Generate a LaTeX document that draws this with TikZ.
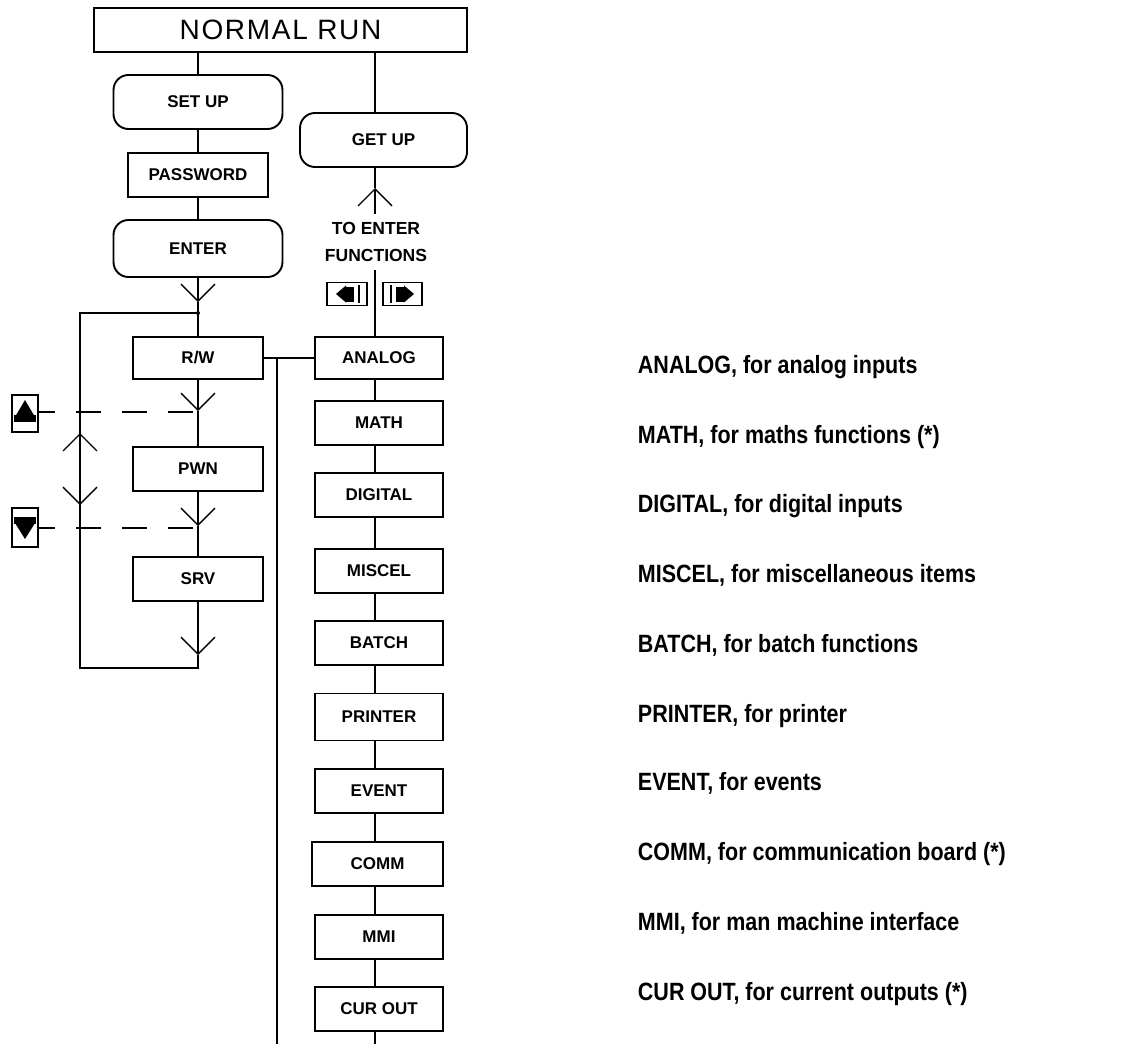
\documentclass[tikz,border=0pt]{standalone}
\usepackage{fontspec}
\setmainfont{Liberation Sans}
\newfontfamily\labfont[FakeStretch=0.86]{Liberation Sans}
\usetikzlibrary{arrows.meta}
\begin{document}
\begin{tikzpicture}[x=1pt,y=-1pt,line width=1.9pt,
  boxtxt/.style={font=\bfseries\fontsize{17}{17}\selectfont},
  lbox/.style={draw,boxtxt,minimum width=130pt,minimum height=44pt,inner sep=0pt},
  rbox/.style={draw,boxtxt,minimum width=128pt,minimum height=44pt,inner sep=0pt},
  pill/.style={draw,boxtxt,rounded corners=15pt,minimum width=169pt,minimum height=54pt,inner sep=0pt},
  keybox/.style={draw,line width=1.6pt,inner sep=0pt},
  lab/.style={anchor=base west,inner sep=0pt,font=\labfont\bfseries\fontsize{25}{25}\selectfont},
  barb/.style={-{Straight Barb[length=17pt,width=34pt,line width=1.3pt]}},
  dashln/.style={dash pattern=on 25pt off 21pt,dash phase=25pt}]
\useasboundingbox (0,0) rectangle (1137,1044);

% top
\node[draw,minimum width=373pt,minimum height=44pt,inner sep=0pt,
  font=\fontsize{28}{28}\selectfont\addfontfeature{LetterSpace=6}] (nr) at (280.5,30) {NORMAL RUN};

\coordinate (colR) at (375,0);
\coordinate (colL) at (198,0);

% left column
\node[pill] (setup) at (198,102) {SET UP};
\node[lbox,minimum width=140pt] (pwd) at (198,175) {PASSWORD};
\node[pill,minimum height=57pt] (enter) at (198,248.5) {ENTER};
\node[lbox,minimum height=42pt] (rw) at (198,358) {R/W};
\node[lbox] (pwn) at (198,469) {PWN};
\node[lbox] (srv) at (198,579) {SRV};

% right column
\node[pill,minimum width=167pt] (getup) at (383.5,140) {GET UP};
\node[align=center,inner sep=0pt,minimum height=54pt,
  font=\bfseries\fontsize{17.5}{27}\selectfont] (funcs) at (376,242) {TO ENTER\\FUNCTIONS};
\node[keybox,minimum width=40pt,minimum height=23pt] (lkey) at (347,294) {};
\node[keybox,minimum width=39pt,minimum height=23pt] (rkey) at (402.5,294) {};

\node[rbox,minimum height=42pt] (analog) at (379,358) {ANALOG};
\node[rbox] (math) at (379,423) {MATH};
\node[rbox] (digital) at (379,495) {DIGITAL};
\node[rbox] (miscel) at (379,571) {MISCEL};
\node[rbox] (batch) at (379,643) {BATCH};
\node[rbox,minimum height=47pt] (printer) at (379,717) {PRINTER};
\node[rbox] (event) at (379,791) {EVENT};
\node[rbox,minimum width=131pt] (comm) at (377.5,864) {COMM};
\node[rbox] (mmi) at (379,937) {MMI};
\node[rbox] (curout) at (379,1009) {CUR OUT};

% keys on the left
\node[keybox,minimum width=26pt,minimum height=37pt] (upkey) at (25,413.5) {};
\node[keybox,minimum width=26pt,minimum height=39pt] (dnkey) at (25,527.5) {};

% key icons
\fill (14,415) rectangle (36,422);
\fill (15,417) -- (25,400) -- (35,417) -- cycle;
\fill (14,517) rectangle (36,524);
\fill (15,523) -- (25,539) -- (35,523) -- cycle;
\fill (336,294) -- (346,285.5) -- (346,302.5) -- cycle;
\fill (345,287) rectangle (354,302);
\draw[line width=1.4pt] (359,285) -- (359,303);
\fill (414,294) -- (404,285.5) -- (404,302.5) -- cycle;
\fill (396,287) rectangle (405,302);
\draw[line width=1.4pt] (391,285) -- (391,303);

% connectors, left column
\draw (nr.south -| colL) -- (setup.north);
\draw (setup.south) -- (pwd.north);
\draw (pwd.south) -- (enter.north);
\coordinate (t1) at (198,302);
\coordinate (junc) at (198,313);
\draw[barb] (enter.south) -- (t1);
\draw (t1) -- (rw.north);
\fill (junc) circle (2pt);
\coordinate (t2) at (198,411);
\draw[barb] (rw.south) -- (t2);
\draw (t2) -- (pwn.north);
\coordinate (t3) at (198,526);
\draw[barb] (pwn.south) -- (t3);
\draw (t3) -- (srv.north);
\coordinate (t4) at (198,655);
\coordinate (loopBR) at (198,668);
\coordinate (loopBL) at (80,668);
\coordinate (loopTL) at (80,313);
\draw[barb] (srv.south) -- (t4);
\draw (t4) -- (loopBR) -- (loopBL) -- (loopTL) -- (junc);

% arrows on loop line
\coordinate (upTip) at (80,433);
\coordinate (dnTip) at (80,505);
\coordinate (mid) at (80,469);
\draw[barb] (mid) -- (upTip);
\draw[barb] (mid) -- (dnTip);

% dashed key lines
\coordinate (ua) at (55,412);
\coordinate (ub) at (198,412);
\coordinate (da) at (55,528);
\coordinate (db) at (198,528);
\draw (upkey.east |- ua) -- (ua);
\draw[dashln] (ua) -- (ub);
\draw (dnkey.east |- da) -- (da);
\draw[dashln] (da) -- (db);

% connectors, right column
\draw (nr.south -| colR) -- (getup.north -| colR);
\coordinate (t5) at (375,188);
\draw[barb] (funcs.north -| colR) -- (t5);
\draw (t5) -- (getup.south -| colR);
\draw (funcs.south -| colR) -- (analog.north -| colR);
\draw (analog.south -| colR) -- (math.north -| colR);
\draw (math.south -| colR) -- (digital.north -| colR);
\draw (digital.south -| colR) -- (miscel.north -| colR);
\draw (miscel.south -| colR) -- (batch.north -| colR);
\draw (batch.south -| colR) -- (printer.north -| colR);
\draw (printer.south -| colR) -- (event.north -| colR);
\draw (event.south -| colR) -- (comm.north -| colR);
\draw (comm.south -| colR) -- (mmi.north -| colR);
\draw (mmi.south -| colR) -- (curout.north -| colR);
\coordinate (endR) at (375,1044);
\draw (curout.south -| colR) -- (endR);

% R/W to ANALOG and bus
\draw (rw.east) -- (analog.west);
\coordinate (busTop) at (277,358);
\coordinate (busEnd) at (277,1044);
\draw (busTop) -- (busEnd);

% labels
\node[lab] (l1) at (637,373) {ANALOG, for analog inputs};
\node[lab] (l2) at (637,443) {MATH, for maths functions (*)};
\node[lab] (l3) at (637,512) {DIGITAL, for digital inputs};
\node[lab] (l4) at (637,582) {MISCEL, for miscellaneous items};
\node[lab] (l5) at (637,652) {BATCH, for batch functions};
\node[lab] (l6) at (637,722) {PRINTER, for printer};
\node[lab] (l7) at (637,790) {EVENT, for events};
\node[lab] (l8) at (637,860) {COMM, for communication board (*)};
\node[lab] (l9) at (637,930) {MMI, for man machine interface};
\node[lab] (l10) at (637,1000) {CUR OUT, for current outputs (*)};
\end{tikzpicture}
\end{document}
